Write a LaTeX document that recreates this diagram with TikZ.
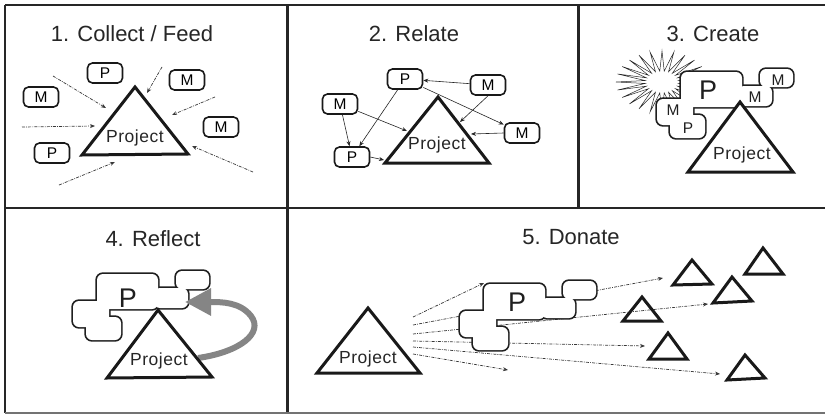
\documentclass[tikz,border=0pt]{standalone}
\usepackage{fontspec}
\setmainfont{Liberation Sans}
\newfontfamily\projfont[LetterSpace=3]{Liberation Sans}
\usetikzlibrary{arrows.meta}
\tikzset{
  blob/.pic={
    \foreach \a/\b/\c/\d in {0/0/61/35, 57/14/91/34, 79/-3/112/15, -24/27/12/53, -11/43/24/66}
      \draw[line width=3.4pt, black!88, rounded corners=6pt] (\a,\b) rectangle (\c,\d);
    \foreach \a/\b/\c/\d in {0/0/61/35, 57/14/91/34, 79/-3/112/15, -24/27/12/53, -11/43/24/66}
      \fill[white, rounded corners=6pt] (\a,\b) rectangle (\c,\d);
  }
}
\begin{document}
\begin{tikzpicture}[x=1pt,y=-1pt,
  frame/.style={line width=2.6pt, draw=black!85},
  title/.style={font=\fontsize{22}{25}\selectfont, text=black!85},
  proj/.style={font=\projfont\fontsize{17.5}{19}\selectfont, text=black!85, inner sep=0pt},
  bigp/.style={font=\fontsize{27}{30}\selectfont, text=black!88, inner sep=0pt},
  smallt/.style={font=\fontsize{15.5}{17}\selectfont, text=black!88, inner sep=0pt},
  tri/.style={line width=3pt, draw=black!90, fill=white, line join=miter},
  otri/.style={line width=3pt, draw=black!90, line join=miter},
  box/.style={draw=black!90, line width=1.6pt, rounded corners=5pt, minimum width=35pt,
    minimum height=20pt, inner sep=0pt, font=\fontsize{15.5}{17}\selectfont, fill=white},
  darr/.style={draw=black!78, line width=0.7pt, dash pattern=on 3pt off 1.2pt on 0.8pt off 1.2pt,
    -{Stealth[length=5pt,width=4pt]}},
  sarr/.style={draw=black!85, line width=0.6pt, -{Stealth[length=5pt,width=4pt]}},
]
\useasboundingbox (0,0) rectangle (825,415);
\fill[white] (0,0) rectangle (825,415);

% ---------- frame ----------
\draw[frame] (5,5) -- (825,5);
\draw[frame] (5,5) -- (5,413);
\draw[frame] (5,208) -- (825,208);
\draw[line width=3pt, draw=black!85] (287,5) -- (287,413);
\draw[line width=3pt, draw=black!85] (578,5) -- (578,208);
\draw[line width=1.5pt, draw=black!55] (5,413) -- (825,413);

% ---------- panel 1 ----------
\node[title] (t1) at (132,34) {1. Collect / Feed};
\coordinate (a1) at (135,87); \coordinate (b1) at (82,155); \coordinate (c1) at (188,154);
\draw[tri] (a1) -- (b1) -- (c1) -- cycle;
\node[proj] (pr1) at (135,138) {Project};
\node[box] (p1a) at (105,73) {P};
\node[box] (m1a) at (41,97) {M};
\node[box] (m1b) at (187,80) {M};
\node[box] (m1c) at (221,127) {M};
\node[box] (p1b) at (52,153) {P};
\coordinate (s1) at (53,76);   \coordinate (e1) at (106,108);
\coordinate (s2) at (162,67);  \coordinate (e2) at (147,93);
\coordinate (s3) at (215,97);  \coordinate (e3) at (172,115);
\coordinate (s4) at (22,127);  \coordinate (e4) at (95,126);
\coordinate (s5) at (253,172); \coordinate (e5) at (192,146);
\coordinate (s6) at (59,185);  \coordinate (e6) at (115,162);
\foreach \i in {1,...,6} \draw[darr] (s\i) -- (e\i);

% ---------- panel 2 ----------
\node[title] (t2) at (414,34) {2. Relate};
\coordinate (a2) at (438,97); \coordinate (b2) at (385,163); \coordinate (c2) at (489,163);
\draw[tri] (a2) -- (b2) -- (c2) -- cycle;
\node[proj] (pr2) at (437,145) {Project};
\node[box] (p2a) at (405,79) {P};
\node[box] (m2a) at (488,85) {M};
\node[box] (m2b) at (340,104) {M};
\node[box] (m2c) at (522,133) {M};
\node[box] (p2b) at (352,157) {P};
\coordinate (q1) at (460,122);
\coordinate (q2) at (471,134);
\coordinate (q3) at (407,131);
\coordinate (q4) at (384,160);
\draw[sarr] (m2a) -- (p2a);
\draw[sarr] (m2a.south) -- (q1);
\draw[sarr] (p2a) -- (m2c);
\draw[sarr] (m2c.west) -- (q2);
\draw[sarr] (m2b) -- (q3);
\draw[sarr] (m2b) -- (p2b);
\draw[sarr] (p2a) -- (p2b);
\draw[sarr] (p2b.east) -- (q4);

% ---------- panel 3 ----------
\node[title] (t3) at (713,34) {3. Create};
\draw[line width=0.5pt, black!85] (708,82) \foreach \k in {0,...,23} {
  -- ({662+46*cos(\k*15)}, {82+31*sin(\k*15)})
  -- ({662+17*cos(\k*15+7.5)}, {82+11*sin(\k*15+7.5)}) } -- cycle;
\pic at (681,72) {blob};
\node[bigp] (bp3) at (708,90) {P};
\node[smallt] (m3a) at (755,97) {M};
\node[smallt] (m3b) at (778,80) {M};
\node[smallt] (m3c) at (673,110) {M};
\node[smallt] (p3a) at (688,128) {P};
\coordinate (a3) at (740,102); \coordinate (b3) at (688,172); \coordinate (c3) at (793,172);
\draw[tri] (a3) -- (b3) -- (c3) -- cycle;
\node[proj] (pr3) at (742,155) {Project};

% ---------- panel 4 ----------
\node[title] (t4) at (153,239) {4. Reflect};
\pic at (97,274) {blob};
\node[bigp] (bp4) at (128,298) {P};
\coordinate (g0) at (198,358);
\coordinate (g1) at (251,316);
\coordinate (g2) at (185,302);
\draw[line width=6pt, draw=black!48, -{Triangle[length=26pt,width=26pt]}]
  (g0) .. controls (240,352) and (264,333) .. (g1) .. controls (240,302) and (222,302) .. (g2);
\coordinate (a4) at (158,310); \coordinate (b4) at (107,378); \coordinate (c4) at (212,377);
\draw[tri] (a4) -- (b4) -- (c4) -- cycle;
\node[proj] (pr4) at (159,361) {Project};

% ---------- panel 5 ----------
\node[title] (t5) at (571,237) {5. Donate};
\coordinate (a5) at (368,308); \coordinate (b5) at (317,373); \coordinate (c5) at (420,373);
\coordinate (d1s) at (413,317); \coordinate (d1e) at (484,283);
\coordinate (d2s) at (413,325); \coordinate (d2e) at (663,278);
\coordinate (d3s) at (413,334); \coordinate (d3e) at (708,304);
\coordinate (d4s) at (413,341); \coordinate (d4e) at (645,346);
\coordinate (d5s) at (413,347); \coordinate (d5e) at (720,374);
\coordinate (d6s) at (413,354); \coordinate (d6e) at (508,370);
\foreach \i in {1,...,6} \draw[darr] (d\i s) -- (d\i e);
\pic at (484,284) {blob};
\node[bigp] (bp5) at (517,302) {P};
\draw[tri] (a5) -- (b5) -- (c5) -- cycle;
\node[proj] (pr5) at (368,359) {Project};
\draw[otri] (692,260) -- (673,285) -- (712,284) -- cycle;
\draw[otri] (763,248) -- (745,274) -- (783,274) -- cycle;
\draw[otri] (732,277) -- (713,303) -- (752,301) -- cycle;
\draw[otri] (642,297) -- (623,321) -- (661,321) -- cycle;
\draw[otri] (668,333) -- (649,359) -- (687,359) -- cycle;
\draw[otri] (745,355) -- (727,380) -- (765,378) -- cycle;
\end{tikzpicture}
\end{document}
